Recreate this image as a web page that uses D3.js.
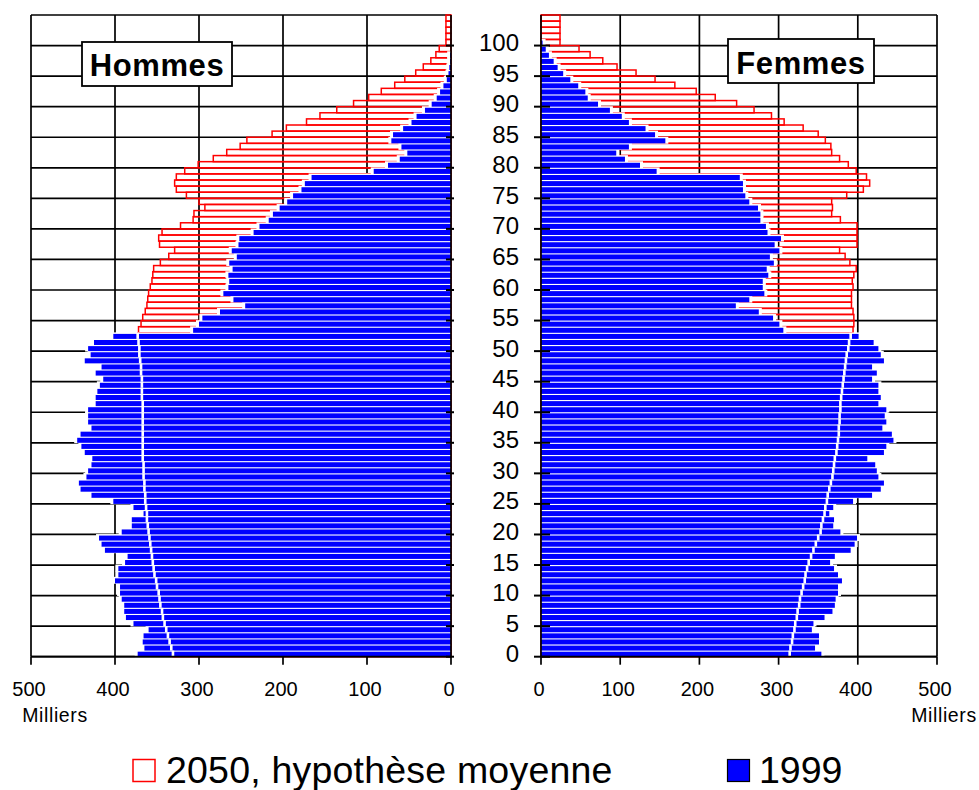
<!DOCTYPE html>
<html><head><meta charset="utf-8">
<script src="https://cdn.jsdelivr.net/npm/d3@7"></script>
<style>
body{margin:0;background:#fff}
svg{display:block}
text{font-family:"Liberation Sans",Arial,sans-serif;fill:#000}
</style>
</head><body>
<svg id="c" width="979" height="790"></svg>
<script>
// ages 0..104
const ages = d3.range(0, 105);
const hommes1999 = [
 373,365,367,366,360,378,387,389,389,392,
 394,394,400,396,396,388,385,412,416,419,
 392,380,380,366,378,402,428,441,443,434,
 432,428,427,436,440,445,441,428,432,432,
 432,423,423,421,418,414,423,416,436,429,
 432,425,402,307,300,296,275,245,259,271,
 265,264,265,260,264,255,261,253,252,235,
 228,217,212,204,195,188,178,174,166,92,
 75,61,52,59,71,69,57,47,41,31,
 23,17,13,9,5,3,2,1,1,0,
 0,0,0,0,0];
const hommes2050 = [
 331,333,335,337,339,341,343,344,346,347,
 348,350,351,353,354,355,356,357,358,359,
 360,361,362,362,363,364,364,365,365,366,
 366,366,367,367,367,367,367,367,367,367,
 367,367,368,368,368,368,369,369,370,371,
 371,372,373,372,369,367,364,362,361,360,
 358,356,355,354,346,336,329,347,348,344,
 322,307,306,293,300,315,327,329,327,317,
 301,283,267,251,243,213,196,172,156,136,
 116,98,83,67,55,42,33,24,18,14,
 6,6,6,6,6];
const femmes1999 = [
 354,346,351,351,342,344,358,368,371,372,
 375,375,380,375,370,365,371,391,396,399,
 378,369,370,364,369,394,418,429,433,426,
 424,422,412,433,436,445,443,431,436,434,
 436,426,429,426,426,418,424,418,433,429,
 426,420,401,306,301,293,275,246,263,282,
 280,280,287,285,294,289,301,295,303,286,
 284,277,277,274,263,258,255,255,251,146,
 125,106,95,111,157,144,132,111,102,87,
 72,59,56,47,37,28,21,16,10,6,
 2,0,0,0,0];
const femmes2050 = [
 314,315,317,318,320,321,323,324,326,327,
 329,331,333,334,336,338,341,344,347,350,
 353,354,356,358,359,361,362,364,366,368,
 369,370,371,373,374,375,376,376,377,377,
 378,378,379,380,381,382,383,384,385,386,
 388,389,391,394,395,395,394,392,392,392,
 394,393,395,398,390,384,377,399,399,399,
 399,378,367,368,367,386,407,415,411,398,
 388,377,367,366,359,350,331,307,291,269,
 247,220,196,169,144,120,96,78,62,48,
 24,24,24,24,24];
const xTicks = [0, 100, 200, 300, 400, 500];
const yTicks = d3.range(0, 101, 5);
const gridAges = d3.range(0, 106, 5);
const unitLabel = "Milliers";
const panelLabels = ["Hommes", "Femmes"];
const legendLabels = ["2050, hypothèse moyenne", "1999"];

const RED = "#ff0000", BLUE = "#0000ff";
const svg = d3.select("#c");
const y = d3.scaleLinear().domain([0, 105]).range([656.7, 15]);

const panels = [
  {label: panelLabels[0], x: d3.scaleLinear().domain([0, 500]).range([451, 31]),
   v99: hommes1999, v50: hommes2050, dir: -1,
   box: {x: 82, y: 42, w: 150, h: 44, ty: 76}},
  {label: panelLabels[1], x: d3.scaleLinear().domain([0, 500]).range([541, 937]),
   v99: femmes1999, v50: femmes2050, dir: 1,
   box: {x: 728, y: 39, w: 146, h: 44, ty: 74}}
];

const LW = 1.7;

panels.forEach((p, pi) => {
  const g = svg.append("g");
  const x0 = p.x(0), x5 = p.x(500);
  // gridlines (behind)
  g.selectAll("line.vg").data(xTicks.filter(t => t > 0)).join("line")
    .attr("x1", d => p.x(d)).attr("x2", d => p.x(d))
    .attr("y1", y(0)).attr("y2", y(105))
    .attr("stroke", "#000").attr("stroke-width", LW);
  g.selectAll("line.hg").data(gridAges).join("line")
    .attr("x1", x0).attr("x2", x5)
    .attr("y1", d => y(d)).attr("y2", d => y(d))
    .attr("stroke", "#000").attr("stroke-width", LW);

  // 2050 outlined bars
  g.append("g").selectAll("rect").data(ages.filter(a => p.v50[a] > 0)).join("rect")
    .attr("x", a => Math.min(x0, p.x(p.v50[a])))
    .attr("width", a => Math.abs(p.x(p.v50[a]) - x0))
    .attr("y", a => y(a + 1)).attr("height", a => y(a) - y(a + 1))
    .attr("fill", "none").attr("stroke", RED).attr("stroke-width", 1.5);

  // white halo behind 1999 bars
  g.append("g").selectAll("rect").data(ages.filter(a => p.v99[a] > 0)).join("rect")
    .attr("x", a => Math.min(x0, p.x(p.v99[a]) + 3 * p.dir))
    .attr("width", a => Math.abs(p.x(p.v99[a]) + 3 * p.dir - x0))
    .attr("y", a => y(a + 1) - 0.4).attr("height", a => y(a) - y(a + 1) + 0.8)
    .attr("fill", "#fff");

  // 1999 bars
  g.append("g").selectAll("rect").data(ages.filter(a => p.v99[a] > 0)).join("rect")
    .attr("x", a => Math.min(x0, p.x(p.v99[a])))
    .attr("width", a => Math.abs(p.x(p.v99[a]) - x0))
    .attr("y", a => y(a + 1) + 1.1).attr("height", a => y(a) - y(a + 1) - 1.1)
    .attr("fill", BLUE);

  // where 2050 is inside the 1999 bar: white outline end
  g.append("g").selectAll("rect").data(ages.filter(a => p.v50[a] < p.v99[a])).join("rect")
    .attr("x", a => p.x(p.v50[a]) - 1.3)
    .attr("width", 2.6)
    .attr("y", a => y(a + 1)).attr("height", a => y(a) - y(a + 1))
    .attr("fill", "#fff");

  // axis lines on top
  g.append("line").attr("x1", x0).attr("x2", x0).attr("y1", y(0)).attr("y2", y(105))
    .attr("stroke", "#000").attr("stroke-width", LW);
  g.append("line").attr("x1", x0).attr("x2", x5).attr("y1", y(0)).attr("y2", y(0))
    .attr("stroke", "#000").attr("stroke-width", LW);
  // y ticks crossing the axis
  const tin = pi === 0 ? 5 : 9, tout = pi === 0 ? 3 : 7;
  g.selectAll("line.yt").data(yTicks).join("line")
    .attr("x1", x0 - p.dir * tout).attr("x2", x0 + p.dir * tin)
    .attr("y1", d => y(d)).attr("y2", d => y(d))
    .attr("stroke", "#000").attr("stroke-width", 2);
  // x ticks
  g.selectAll("line.xt").data(xTicks).join("line")
    .attr("x1", d => p.x(d)).attr("x2", d => p.x(d))
    .attr("y1", y(0)).attr("y2", y(0) + 8)
    .attr("stroke", "#000").attr("stroke-width", LW);
  g.selectAll("text.xl").data(xTicks).join("text")
    .attr("x", d => p.x(d) - 2).attr("y", 696)
    .attr("text-anchor", "middle").attr("font-size", 20)
    .text(d => d);
  g.append("text").attr("x", pi === 0 ? 55 : 944).attr("y", 722)
    .attr("text-anchor", "middle").attr("font-size", 19.5).attr("letter-spacing", 0.6)
    .text(unitLabel);

  // label box
  g.append("rect").attr("x", p.box.x).attr("y", p.box.y).attr("width", p.box.w).attr("height", p.box.h)
    .attr("fill", "#fff").attr("stroke", "#000").attr("stroke-width", 1.8);
  g.append("text").attr("x", p.box.x + p.box.w / 2).attr("y", p.box.ty)
    .attr("text-anchor", "middle").attr("font-size", 31).attr("font-weight", "bold")
    .attr("letter-spacing", 0.6)
    .text(p.label);
});

// age labels (right panel axis)
svg.append("g").selectAll("text").data(yTicks).join("text")
  .attr("x", 519).attr("y", d => y(d) + 5.5)
  .attr("text-anchor", "end").attr("font-size", 24)
  .text(d => d);

// legend
const lg = svg.append("g");
lg.append("rect").attr("x", 133).attr("y", 759.5).attr("width", 22).attr("height", 22)
  .attr("fill", "#fff").attr("stroke", RED).attr("stroke-width", 1.5);
lg.append("text").attr("x", 166).attr("y", 783).attr("font-size", 37.5).attr("letter-spacing", 0.2).text(legendLabels[0]);
lg.append("rect").attr("x", 727.5).attr("y", 759.5).attr("width", 22).attr("height", 22)
  .attr("fill", BLUE).attr("stroke", "#000").attr("stroke-width", 1.2);
lg.append("text").attr("x", 759).attr("y", 783).attr("font-size", 37.5).text(legendLabels[1]);
</script>
</body></html>
